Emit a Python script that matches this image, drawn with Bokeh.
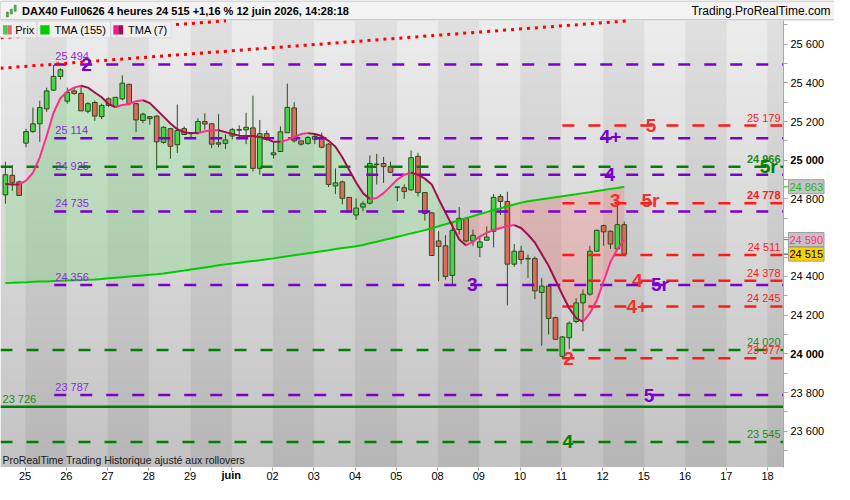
import numpy as np
from bokeh.plotting import figure
from bokeh.models import Range1d, FixedTicker, Label, BoxAnnotation, ColumnDataSource, LinearAxis
from bokeh.core.properties import value
from bokeh.embed import file_html
from bokeh.resources import INLINE

# ---------------- data ----------------
opens = [24821, 24922, 24888, 25088, 25148, 25188, 25265, 25362, 25433, 25305,
         25358, 25345, 25253, 25298, 25225, 25317, 25275, 25317, 25392, 25292,
         25205, 25225, 25228, 25092, 25163, 25080, 25163, 25143, 25142, 25200,
         25188, 25090, 25087, 25125, 25158, 25157, 25167, 24958, 25137, 25028,
         25045, 25142, 25270, 25100, 25087, 25108, 25117, 25083, 24867, 24888,
         24808, 24717, 24758, 24778, 24978, 24983, 24967, 24862, 24858, 24847,
         25020, 24833, 24728, 24583, 24558, 24405, 24642, 24700, 24583, 24550,
         24587, 24633, 24813, 24787, 24463, 24530, 24493, 24492, 24317, 24350,
         24187, 23987, 24083, 24167, 24263, 24308, 24530, 24662, 24633, 24542,
         24667]
highs = [24992, 24975, 24895, 25162, 25272, 25308, 25375, 25492, 25475, 25375,
         25372, 25383, 25300, 25308, 25292, 25325, 25325, 25438, 25395, 25295,
         25245, 25228, 25233, 25175, 25165, 25288, 25175, 25145, 25217, 25242,
         25190, 25238, 25133, 25167, 25180, 25245, 25333, 25208, 25153, 25092,
         25175, 25395, 25300, 25100, 25125, 25133, 25142, 25088, 24958, 24895,
         24810, 24803, 24788, 25025, 25033, 25017, 24992, 24865, 24875, 25050,
         25038, 24833, 24730, 24633, 24612, 24683, 24758, 24705, 24642, 24600,
         24658, 24825, 24825, 24837, 24567, 24558, 24513, 24503, 24392, 24358,
         24192, 24092, 24167, 24287, 24333, 24558, 24642, 24667, 24637, 24792,
         24683]
lows = [24775, 24842, 24818, 25067, 25142, 25095, 25250, 25358, 25417, 25292,
        25338, 25255, 25242, 25203, 25212, 25275, 25275, 25308, 25283, 25145,
        25192, 25183, 24950, 25085, 25008, 25037, 25130, 25120, 25133, 25158,
        25062, 25067, 25058, 25108, 25108, 25083, 24942, 24925, 25100, 25008,
        25045, 25142, 25092, 25075, 25080, 25083, 25062, 24862, 24825, 24772,
        24730, 24692, 24737, 24772, 24875, 24883, 24933, 24788, 24800, 24842,
        24812, 24688, 24505, 24375, 24383, 24350, 24617, 24575, 24558, 24500,
        24583, 24550, 24717, 24250, 24450, 24463, 24392, 24283, 24042, 24100,
        24075, 23975, 24025, 24158, 24117, 24300, 24530, 24558, 24542, 24533,
        24508]
closes = [24925, 24883, 24818, 25148, 25188, 25272, 25358, 25433, 25467, 25350,
          25345, 25255, 25292, 25228, 25283, 25283, 25325, 25398, 25292, 25208,
          25238, 25215, 25095, 25170, 25072, 25153, 25133, 25137, 25200, 25187,
          25083, 25083, 25105, 25158, 25155, 25170, 24958, 25137, 25108, 25038,
          25147, 25273, 25100, 25083, 25117, 25123, 25067, 24875, 24883, 24803,
          24733, 24753, 24775, 24983, 24980, 24967, 24938, 24860, 24838, 25013,
          24833, 24725, 24508, 24555, 24400, 24638, 24700, 24583, 24612, 24578,
          24603, 24808, 24787, 24463, 24530, 24487, 24490, 24325, 24350, 24183,
          24075, 24087, 24158, 24263, 24308, 24530, 24638, 24630, 24567, 24667,
          24515]
tma155 = [24366, 24367, 24369, 24370, 24372, 24373, 24374, 24376, 24377, 24379,
          24380, 24381, 24383, 24384, 24386, 24390, 24393, 24396, 24399, 24402,
          24405, 24408, 24411, 24415, 24420, 24425, 24430, 24436, 24441, 24446,
          24451, 24457, 24462, 24467, 24471, 24475, 24479, 24483, 24488, 24493,
          24499, 24504, 24509, 24514, 24520, 24525, 24530, 24535, 24541, 24546,
          24551, 24556, 24562, 24571, 24579, 24588, 24596, 24605, 24613, 24622,
          24630, 24639, 24649, 24659, 24669, 24680, 24690, 24701, 24711, 24722,
          24732, 24743, 24752, 24762, 24771, 24781, 24788, 24793, 24798, 24803,
          24809, 24814, 24819, 24824, 24830, 24835, 24841, 24846, 24852, 24857,
          24863]
tma7 = [24877, 24875, 24875, 24895, 24935, 25015, 25125, 25245, 25320, 25355,
        25375, 25385, 25375, 25350, 25325, 25290, 25275, 25285, 25290, 25305,
        25310, 25295, 25260, 25225, 25190, 25160, 25145, 25140, 25140, 25150,
        25155, 25155, 25145, 25135, 25127, 25125, 25125, 25120, 25110, 25095,
        25095, 25105, 25120, 25135, 25140, 25135, 25125, 25100, 25070, 25015,
        24950, 24885, 24830, 24800, 24805, 24830, 24865, 24900, 24925, 24935,
        24925, 24905, 24875, 24800, 24730, 24660, 24590, 24560, 24580, 24605,
        24625, 24640, 24650, 24660, 24665, 24650, 24615, 24575, 24515, 24455,
        24380, 24305, 24235, 24185, 24165, 24210, 24275, 24375, 24475, 24540,
        24590]

day_labels = ["25", "26", "27", "28", "29", "juin", "02", "03", "04", "05",
              "08", "09", "10", "11", "12", "15", "16", "17", "18"]
first_bar_of_day = 3          # bars 0..2 belong to the previous session
bars_per_day = 6

purple_levels = [25494, 25114, 24925, 24735, 24356, 23787]
purple_from = 7.1             # bar index where the purple levels start
red_levels = [25179, 24778, 24511, 24378, 24245, 23977]
red_from = 81.0
green_levels = [24966, 24020, 23545]
green_solid = 23726
trend_x = [0, 113]
trend_y = [25477, 25780]
channel_offset = 157          # upper parallel of the dotted trend line

mark_text = ["2", "4+", "4", "3", "5r", "5", "5", "5r", "3", "4", "4+", "2", "5r", "4"]
mark_x = [11.8, 88.0, 87.9, 67.9, 95.2, 93.6, 93.9, 93.8, 88.7, 91.9, 91.9, 81.9, 111.0, 81.8]
mark_y = [25494, 25125, 24925, 24356, 24356, 23787, 25179, 24790, 24790, 24378, 24245, 23977, 24966, 23545]
mark_kind = ["p", "p", "p", "p", "p", "p", "r", "r", "r", "r", "r", "r", "g", "g"]

last_price = 24515
tma155_last = 24863
tma7_last = 24590
header_text = "DAX40 Full0626 4 heures 24 515 +1,16 % 12 juin 2026, 14:28:18"

# ---------------- styles ----------------
FONT = "Liberation Sans"
PURPLE = "#7A00CC"
PURPLE_T = "#8C2BD9"
RED = "#FF1A1A"
GREEN_D = "#008000"
UP = "#47D447"
DOWN = "#E2685C"
WICK = "#2E4A1E"
PINK = "#FF2D8A"
DARK = "#A0104C"
LIME = "#00CC00"


def xd(px):   # reference pixel -> bar units
    return (px - 5) / 7.008


def yd(py):   # reference pixel -> price units
    return 25825 - 5 * py


def fmt(v):
    return f"{int(v):,}".replace(",", " ")


N = len(closes)
x = np.arange(N, dtype=float)
o = np.array(opens, float); c = np.array(closes, float)
h = np.array(highs, float); l = np.array(lows, float)
t155 = np.array(tma155, float); t7 = np.array(tma7, float)

X0, XR = xd(0), xd(798)       # plot area left / right
Y0, Y1 = yd(482), yd(21)      # plot area bottom / top

p = figure(width=834, height=484, output_backend="svg", toolbar_location=None,
           x_range=Range1d(xd(0), xd(850)), y_range=Range1d(yd(500), yd(0)),
           x_axis_location=None, y_axis_location=None)
p.min_border = 0
p.min_border_top = 0
p.min_border_bottom = 0
p.min_border_right = 0
p.min_border_left = 0
p.grid.visible = False
p.outline_line_color = None
p.background_fill_color = "white"
p.border_fill_color = "white"

# ---------------- background: day bands with vertical gradient ----------------
H, W = 120, 570
xc = X0 + (np.arange(W) + 0.5) * (XR - X0) / W
day_idx = np.floor((xc - (first_bar_of_day - 0.15)) / bars_per_day).astype(int)
is_dark = (day_idx % 2 == 0)
tt = 1 - (np.arange(H) + 0.5) / H          # 0 at top, 1 at bottom
light = 237 - tt * 42
g = light[:, None] - np.where(is_dark, 13, 0)[None, :]
img = np.empty((H, W), dtype=np.uint32)
view = img.view(dtype=np.uint8).reshape((H, W, 4))
view[..., 0] = g.astype(np.uint8)
view[..., 1] = g.astype(np.uint8)
view[..., 2] = g.astype(np.uint8)
view[..., 3] = 255
p.image_rgba(image=[img], x=X0, y=Y0, dw=XR - X0, dh=Y1 - Y0)

# header strip
p.quad(left=xd(0), right=xd(850), top=yd(0.5), bottom=yd(20), fill_color="#F3F3F3",
       line_color="#B4B4B4", line_width=1)

# ---------------- TMA cloud fills ----------------
d = t7 - t155
xs, ya, yb = [], [], []
for i in range(N):
    if i > 0 and d[i - 1] * d[i] < 0:
        f = d[i - 1] / (d[i - 1] - d[i])
        xcr = x[i - 1] + f
        ycr = t155[i - 1] + f * (t155[i] - t155[i - 1])
        xs.append(xcr); ya.append(ycr); yb.append(ycr)
    xs.append(x[i]); ya.append(t155[i]); yb.append(t7[i])
xs = np.array(xs); ya = np.array(ya); yb = np.array(yb)
p.varea(x=xs, y1=ya, y2=np.maximum(ya, yb), fill_color="#66DD66", fill_alpha=0.26)
p.varea(x=xs, y1=ya, y2=np.minimum(ya, yb), fill_color="#FF5A5A", fill_alpha=0.24)

# ---------------- candles ----------------
src = ColumnDataSource(dict(x=x, top=np.maximum(o, c), bottom=np.minimum(o, c), high=h, low=l,
                            color=[UP if cc >= oo else DOWN for oo, cc in zip(o, c)]))
p.segment(x0="x", y0="low", x1="x", y1="high", source=src, line_color=WICK, line_width=1)
p.vbar(x="x", width=0.68, top="top", bottom="bottom", fill_color="color",
       line_color=WICK, line_width=1, source=src)

# ---------------- horizontal levels ----------------
for v in green_levels:
    p.line([X0, XR], [v, v], line_color=GREEN_D, line_width=2.5, line_dash="12 14")
p.line([X0, XR], [green_solid, green_solid], line_color=GREEN_D, line_width=2.5)
for v in purple_levels:
    p.line([purple_from, XR], [v, v], line_color=PURPLE, line_width=2.5, line_dash="12 14")
for v in red_levels:
    p.line([red_from, XR], [v, v], line_color=RED, line_width=2.5, line_dash="12 14")

# ---------------- moving averages ----------------
p.line(x, t155, line_color=LIME, line_width=2)
dirs = np.sign(np.diff(t7))
for i in range(1, len(dirs)):
    if dirs[i] == 0:
        dirs[i] = dirs[i - 1]
runs_x, runs_y, runs_c = [], [], []
s = 0
for i in range(1, len(dirs) + 1):
    if i == len(dirs) or dirs[i] != dirs[s]:
        runs_x.append(list(x[s:i + 1])); runs_y.append(list(t7[s:i + 1]))
        runs_c.append(PINK if dirs[s] >= 0 else DARK)
        s = i
p.multi_line(xs=runs_x, ys=runs_y, line_color=runs_c, line_width=2, line_join="round")

# dotted trend channel (clipped at the top of the plot area)
tx = np.array(trend_x, float); ty = np.array(trend_y, float)
slope = (ty[1] - ty[0]) / (tx[1] - tx[0])
for off in (0, channel_offset):
    y_left = ty[0] + off + slope * (X0 - tx[0])
    x_top = tx[0] + (Y1 - ty[0] - off) / slope
    p.line([X0, x_top], [y_left, Y1], line_color="#FF0000", line_width=3, line_dash="3 5")

# ---------------- level labels ----------------
p.text(x=[purple_from + 0.15] * len(purple_levels), y=[v + 12 for v in purple_levels],
       text=[fmt(v) for v in purple_levels], text_color=PURPLE_T, text_font=value(FONT),
       text_font_size="11px", text_baseline="bottom", text_align="left")
p.text(x=[X0 + 0.3], y=[green_solid + 12], text=[fmt(green_solid)], text_color="#1E8A1E",
       text_font=value(FONT), text_font_size="11px", text_baseline="bottom")
rl = red_levels + green_levels
p.text(x=[xd(795)] * len(rl), y=[v + 10 for v in rl], text=[fmt(v) for v in rl],
       text_color=[RED] * len(red_levels) + ["#1E8A1E"] * len(green_levels),
       text_font=value(FONT), text_font_size="11px", text_baseline="bottom", text_align="right",
       text_font_style=["bold" if v in (24778, 24966) else "normal" for v in rl])

# big wave markers
kcol = {"p": PURPLE, "r": "#F03030", "g": GREEN_D}
p.text(x=mark_x, y=mark_y, text=mark_text, text_color=[kcol[k] for k in mark_kind],
       text_font=value(FONT), text_font_size="19px", text_font_style="bold",
       text_align="center", text_baseline="middle")

# ---------------- axes ----------------
yt = list(range(23600, 25601, 200))
ax = LinearAxis(fixed_location=XR, bounds=(Y0, Y1))
ax.ticker = FixedTicker(ticks=yt, minor_ticks=list(range(23500, 25701, 100)))
ax.major_label_overrides = {t: ("" if t in (25000, 24000) else fmt(t)) for t in yt}
ax.major_label_text_font = FONT
ax.major_label_text_font_size = "11px"
ax.major_label_text_color = "black"
ax.axis_line_color = "#A8A8A8"
ax.major_tick_line_color = "#A8A8A8"
ax.minor_tick_line_color = "#A8A8A8"
ax.major_tick_out = 4
ax.major_tick_in = 0
ax.minor_tick_out = 4
ax.minor_tick_in = 0
ax.major_label_standoff = 3
p.add_layout(ax, "right")

xt = [first_bar_of_day - 0.15 + bars_per_day * k for k in range(len(day_labels))]
bx = LinearAxis(fixed_location=Y0, bounds=(X0, XR))
bx.ticker = FixedTicker(ticks=xt)
bx.major_label_overrides = {t: ("" if lab == "juin" else lab) for t, lab in zip(xt, day_labels)}
bx.major_label_text_font = FONT
bx.major_label_text_font_size = "11px"
bx.major_label_text_color = "black"
bx.axis_line_color = None
bx.major_tick_line_color = "#A0A0A0"
bx.major_tick_out = 3
bx.major_tick_in = 0
bx.minor_tick_line_color = None
bx.major_label_standoff = 2
p.add_layout(bx, "below")

for t, lab in zip(xt, day_labels):
    if lab == "juin":
        p.text(x=[t], y=[yd(490)], text=[lab], text_align="center", text_baseline="middle",
               text_font=value(FONT), text_font_size="11px", text_font_style="bold", text_color="black")
p.text(x=[xd(805)] * 2, y=[25000, 24000], text=[fmt(25000), fmt(24000)], text_baseline="middle",
       text_font=value(FONT), text_font_size="11px", text_font_style="bold", text_color="black")

# price tags on the axis
for v, col, bg in [(tma155_last, "#1FB51F", "#C4C4C4"), (tma7_last, "#FF2D8A", "#C4C4C4"),
                   (last_price, "black", "#FFD000")]:
    p.segment(x0=[XR], y0=[v], x1=[xd(803)], y1=[v], line_color=col if col != "black" else "#333333",
              line_width=1)
    p.add_layout(Label(x=xd(803), y=v, text=fmt(v), text_baseline="middle", text_font=FONT,
                       text_font_size="11px", text_color=col, background_fill_color=bg,
                       border_line_color="#9A9A9A", padding=1))

# ---------------- header, legend, footer ----------------
p.text(x=[xd(22)], y=[yd(10.5)], text=[header_text], text_baseline="middle",
       text_font=value(FONT), text_font_size="11px", text_font_style="bold", text_color="black")
p.text(x=[xd(846)], y=[yd(10.5)], text=["Trading.ProRealTime.com"], text_align="right",
       text_baseline="middle", text_font=value(FONT), text_font_size="12px", text_color="black")
# small candle icon in the header
p.vbar(x=[xd(7), xd(11), xd(15)], width=0.3, top=[yd(12), yd(9), yd(5)], bottom=[yd(17), yd(14), yd(11)],
       fill_color="#3CC03C", line_color="#2E6A1E", line_width=0.5)

for (a, b) in [(0, 37), (37.5, 112), (112.5, 174)]:
    p.add_layout(BoxAnnotation(left=xd(a), right=xd(b), top=yd(21.5), bottom=yd(38.5),
                               fill_color="#EFEFEF", fill_alpha=1, line_color="#BDBDBD", line_width=1))
for (a, b, col) in [(2.5, 7, "#4CC94C"), (7, 11.5, "#E26A6A"), (40.5, 50, "#00CC00"),
                    (115, 120, "#FF1493"), (120, 125, "#A0104C")]:
    p.add_layout(BoxAnnotation(left=xd(a), right=xd(b), top=yd(25.5), bottom=yd(35),
                               fill_color=col, fill_alpha=1, line_color=None))
for (px, txt) in [(15, "Prix"), (55, "TMA (155)"), (130, "TMA (7)")]:
    p.add_layout(Label(x=xd(px), y=yd(30), text=txt, text_baseline="middle", text_font=FONT,
                       text_font_size="11px", text_color="black"))

p.add_layout(Label(x=xd(2), y=yd(475), text="ProRealTime Trading  Historique ajusté aux rollovers",
                   text_baseline="middle", text_font=FONT, text_font_size="10.5px", text_color="#1A1A1A"))

open("out.html", "w").write(file_html(p, INLINE))
